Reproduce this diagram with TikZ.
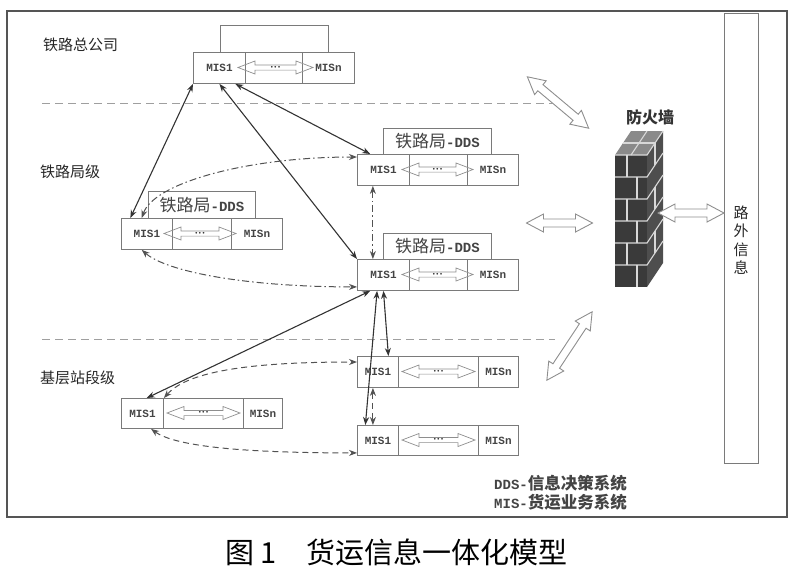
\documentclass[tikz,border=0pt]{standalone}
\usepackage{fontspec}
\setmainfont{Liberation Sans}
\newfontfamily\cjk{Noto Sans CJK SC}
\newfontfamily\mono{Liberation Mono}
\newfontfamily\dotsf{DejaVu Sans}
\usetikzlibrary{arrows.meta,calc}
\definecolor{boxline}{HTML}{7A7A7A}
\definecolor{txt}{HTML}{444444}
\definecolor{conn}{HTML}{333333}
\definecolor{arrline}{HTML}{8E8E8E}
\definecolor{frame}{HTML}{555555}
\definecolor{wallfront}{HTML}{3A3A3A}
\definecolor{wallside}{HTML}{4E4E4E}
\definecolor{walltop}{HTML}{8A8A8A}
\definecolor{mortar}{HTML}{D8D8D8}

\newcommand\ddstext{{\fontsize{17}{17}\cjk 铁路局\fontsize{14}{14}\mono\bfseries -DDS}}

% [#1 style] #2 cx, #3 cy, #4 angle, #5 length, #6 head half width, #7 shaft half width, #8 head length
\newcommand\hollow[8][]{%
  \begin{scope}[shift={({#2},{#3})}, rotate=#4]
    \draw[hollowarrow, #1] ({-(#5)/2},0) -- ({-(#5)/2+(#8)},{-(#6)}) -- ({-(#5)/2+(#8)},{-(#7)})
      -- ({(#5)/2-(#8)},{-(#7)}) -- ({(#5)/2-(#8)},{-(#6)}) -- ({(#5)/2},0)
      -- ({(#5)/2-(#8)},{#6}) -- ({(#5)/2-(#8)},{#7}) -- ({-(#5)/2+(#8)},{#7})
      -- ({-(#5)/2+(#8)},{#6}) -- cycle;
  \end{scope}}

% #1 name, #2 x1, #3 xa, #4 xb, #5 x2, #6 y1, #7 y2, #8 arrow x start, #9 arrow x end
\newcommand\misrow[9]{%
  \node[cell, anchor=north west, minimum width={(#3)-(#2)}, minimum height={(#7)-(#6)}] (#1a) at (#2,#6) {MIS1};
  \node[cell, anchor=north west, minimum width={(#4)-(#3)}, minimum height={(#7)-(#6)}] (#1m) at (#3,#6) {};
  \node[cell, anchor=north west, minimum width={(#5)-(#4)}, minimum height={(#7)-(#6)}] (#1n) at (#4,#6) {MISn};
  \hollow{((#8)+(#9))/2}{((#6)+(#7))/2}{0}{(#9)-(#8)}{6.5}{2.6}{17}
  \node[dotsnode] (#1h) at ({((#8)+(#9))/2},{((#6)+(#7))/2}) {•••};
}

\begin{document}
\begin{tikzpicture}[x=1pt,y=-1pt,
  cell/.style={draw=boxline, line width=0.9pt, inner sep=0pt, text=txt, font=\fontsize{11}{11}\mono\bfseries},
  ddsbox/.style={draw=boxline, line width=0.9pt, inner sep=0pt, text=txt, anchor=north west, minimum width=108pt, minimum height=26pt},
  hollowarrow/.style={draw=arrline, line width=0.7pt, line join=miter},
  dotsnode/.style={inner sep=0pt, text=conn, font=\fontsize{6}{6}\dotsf},
  link/.style={draw=conn, line width=1.1pt, {Stealth[length=8pt,width=6pt]}-{Stealth[length=8pt,width=6pt]}},
  dashdotlink/.style={link, draw=conn!85, line width=1pt, dash pattern=on 7pt off 3pt on 1.5pt off 3pt},
  dashlink/.style={link, draw=conn!85, line width=1pt, dash pattern=on 6pt off 4pt},
  sep/.style={draw=gray!75, line width=0.9pt, dash pattern=on 8pt off 5pt},
  level/.style={anchor=west, inner sep=0pt, text=black!85, font=\fontsize{15}{15}\cjk},
  mortarline/.style={draw=mortar, line width=1.1pt},
]
\useasboundingbox (0,0) rectangle (800,574);

% outer frame
\draw[frame, line width=1.2pt] (7,11) rectangle (787,517);

% level labels
\node[level] (lv1) at (43,45) {铁路总公司};
\node[level] (lv2) at (40,172) {铁路局级};
\node[level] (lv3) at (40,378) {基层站段级};

% level separators
\draw[sep] (42,103) -- (555,103);
\draw[sep] (42,339) -- (555,339);

% head office
\node[ddsbox, minimum width=108pt, minimum height=27pt] (r0d) at (220,25) {};
\misrow{r0}{193}{245}{302}{354}{52}{83}{238}{313}

% railway bureau level
\node[ddsbox] (r1d) at (383,128) {\ddstext};
\misrow{r1}{357}{409}{467}{518}{154}{185}{402}{473}
\node[ddsbox, minimum width=107pt, minimum height=27pt] (r2d) at (148,191) {\ddstext};
\misrow{r2}{121}{172}{231}{282}{218}{249}{164}{236}
\node[ddsbox] (r3d) at (383,233) {\ddstext};
\misrow{r3}{357}{409}{467}{518}{259}{290}{402}{473}

% station level
\misrow{b1}{357}{398}{478}{518}{356}{387}{402}{475}
\misrow{b2}{357}{398}{478}{518}{425}{455}{402}{475}
\misrow{b3}{121}{163}{243}{282}{398}{428}{167}{240}

% connectors
\draw[link] ($(r2a.north west)!0.18!(r2a.north east)$) -- (r0a.south west);
\draw[link] (r0a.south) -- (r3a.north west);
\draw[link] ($(r0a.south)!0.6!(r0a.south east)$) -- ($(r1a.north west)!0.25!(r1a.north east)$);
\draw[dashdotlink] ($(r2a.north west)!0.4!(r2a.north east)$) .. controls +(12,-35) and +(-110,0) .. ($(r1a.north west)+(0,3)$);
\draw[dashdotlink] ($(r2a.south west)!0.4!(r2a.south east)$) .. controls +(25,22) and +(-110,0) .. ($(r3a.south west)+(0,-4)$);
\draw[dashdotlink] ($(r1a.south west)!0.3!(r1a.south east)$) -- ($(r3a.north west)!0.3!(r3a.north east)$);
\draw[link] ($(r3a.south west)!0.25!(r3a.south east)$) -- ($(b3a.north west)!0.6!(b3a.north east)$);
\draw[dashlink] (b3a.north east) .. controls +(25,-28) and +(-100,0) .. ($(b1a.north west)+(0,6)$);
\draw[dashlink] ($(b3a.south west)!0.7!(b3a.south east)$) .. controls +(25,18) and +(-110,0) .. ($(b2a.south west)+(0,-3)$);
\draw[link] ($(r3a.south west)!0.5!(r3a.south east)$) -- ($(b1a.north west)!0.75!(b1a.north east)$);
\draw[link] ($(r3a.south west)!0.38!(r3a.south east)$) -- ($(b2a.north west)!0.2!(b2a.north east)$);
\draw[dashlink] ($(b1a.south west)!0.38!(b1a.south east)$) -- ($(b2a.north west)!0.38!(b2a.north east)$);

% outside information column
\node[draw=boxline, line width=0.9pt, anchor=north west, minimum width=34pt, minimum height=450pt, inner sep=0pt] (outside) at (724,13) {};
\node[align=center, inner sep=0pt, text=black!85, font=\fontsize{15}{18.5}\cjk] (outtxt) at (741,240) {路\\外\\信\\息};

% firewall
\node[inner sep=0pt, text=black!80, font=\fontsize{16}{16}\cjk\bfseries] (fwlabel) at (650,117) {防火墙};
\fill[wallfront] (615,155) rectangle (647,287);
\fill[wallside] (647,155) -- (663,131) -- (663,263) -- (647,287) -- cycle;
\fill[walltop] (615,155) -- (631,131) -- (663,131) -- (647,155) -- cycle;
\foreach \yy in {177,199,221,243,265} {
  \draw[mortarline] (615,\yy) -- (647,\yy) -- (663,\yy-24);
}
\foreach \yy/\xx in {155/627,177/637,199/627,221/637,243/627,265/637} {
  \draw[mortarline] (\xx,\yy) -- (\xx,\yy+22);
}
\foreach \yy in {155,199,243} {
  \draw[mortarline] (655,\yy-12) -- (655,\yy+10);
}
\draw[mortarline] (615,155) -- (647,155) -- (663,131);
\draw[mortarline] (623,143) -- (655,143);
\draw[mortarline] (639,143) -- (647,131);
\draw[mortarline] (631,155) -- (639,143);

% big hollow arrows
\hollow[fill=white, line width=0.9pt]{558}{102.5}{-40}{80}{9}{4}{17}
\hollow[fill=white, line width=0.9pt]{559.5}{223}{0}{66}{9}{4}{17}
\hollow[fill=white, line width=0.9pt]{569.5}{346}{56.5}{82}{9}{4}{17}
\hollow[fill=white, line width=0.9pt]{691}{213}{0}{66}{9}{4}{17}

% legend
\node[anchor=west, inner sep=0pt, text=txt] (leg1) at (494,483) {\fontsize{14}{14}\mono\bfseries DDS-\fontsize{16.5}{16.5}\cjk 信息决策系统};
\node[anchor=west, inner sep=0pt, text=txt] (leg2) at (494,502) {\fontsize{14}{14}\mono\bfseries MIS-\fontsize{16.5}{16.5}\cjk 货运业务系统};

% caption
\node[anchor=west, inner sep=0pt, font=\fontsize{29}{29}\cjk] (cap) at (225,552) {图\hspace{6pt}1\hspace{30pt}货运信息一体化模型};
\end{tikzpicture}
\end{document}
